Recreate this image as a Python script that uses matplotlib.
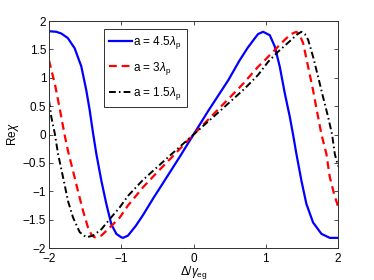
import numpy as np
import matplotlib
matplotlib.use("Agg")
import matplotlib.pyplot as plt

plt.rcParams['font.family'] = ['Liberation Sans', 'DejaVu Sans']
plt.rcParams['mathtext.fontset'] = 'custom'
plt.rcParams['mathtext.rm'] = 'Liberation Sans'
plt.rcParams['mathtext.it'] = 'Liberation Sans:italic'

# a = 4.5 lambda_p (blue, solid)
blue_x = [-2.0, -1.9, -1.83, -1.74, -1.645, -1.553, -1.484, -1.437, -1.39, -1.345,
          -1.276, -1.207, -1.138, -1.068, -1.0, -0.976, -0.907, -0.8, -0.7, -0.556,
          -0.4, -0.2, 0.0, 0.2, 0.482, 0.634, 0.75, 0.85, 0.893, 0.962, 1.055, 1.124,
          1.193, 1.262, 1.332, 1.377, 1.423, 1.492, 1.561, 1.654, 1.77, 1.885, 2.0]
blue_y = [1.82, 1.81, 1.78, 1.70, 1.52, 1.20, 0.78, 0.43, 0.02, -0.34,
          -0.81, -1.22, -1.58, -1.75, -1.81, -1.82, -1.78, -1.61, -1.42, -1.12,
          -0.81, -0.41, 0.0, 0.41, 0.96, 1.30, 1.53, 1.70, 1.77, 1.81, 1.75, 1.55,
          1.195, 0.73, 0.31, 0.0, -0.34, -0.81, -1.22, -1.55, -1.75, -1.82, -1.82]

# a = 3 lambda_p (red, dashed)
red_x = [-2.0, -1.968, -1.92, -1.875, -1.83, -1.785, -1.737, -1.668, -1.6, -1.53,
         -1.46, -1.41, -1.37, -1.32, -1.276, -1.16, -1.02, -0.907, -0.7, -0.5,
         -0.3, 0.0, 0.3, 0.5, 0.69, 0.893, 0.986, 1.124, 1.262, 1.35, 1.423, 1.47,
         1.516, 1.585, 1.654, 1.714, 1.77, 1.838, 1.885, 1.945, 2.0]
red_y = [1.31, 1.14, 0.90, 0.61, 0.31, 0.0, -0.29, -0.64, -0.99, -1.34,
         -1.64, -1.77, -1.81, -1.80, -1.78, -1.64, -1.46, -1.25, -0.93, -0.66,
         -0.40, 0.0, 0.39, 0.65, 0.90, 1.195, 1.31, 1.49, 1.67, 1.77, 1.81, 1.75,
         1.61, 1.195, 0.78, 0.37, 0.0, -0.34, -0.75, -1.05, -1.27]

# a = 1.5 lambda_p (black, dash-dot)
black_x = [-2.0, -1.968, -1.92, -1.875, -1.806, -1.737, -1.668, -1.575, -1.483, -1.39,
           -1.276, -1.16, -1.02, -0.907, -0.7, -0.5, -0.3, 0.0, 0.3, 0.5, 0.7, 0.893,
           1.031, 1.17, 1.354, 1.43, 1.492, 1.54, 1.585, 1.654, 1.723, 1.79, 1.862,
           1.917, 1.954, 2.0]
black_y = [0.60, 0.31, 0.02, -0.34, -0.75, -1.17, -1.46, -1.72, -1.81, -1.78,
           -1.67, -1.49, -1.28, -1.08, -0.80, -0.57, -0.34, 0.0, 0.34, 0.57, 0.80, 1.05,
           1.28, 1.46, 1.67, 1.76, 1.81, 1.77, 1.67, 1.37, 1.02, 0.67, 0.31,
           0.0, -0.34, -0.56]

labels = [r'a = 4.5$\lambda_{\rm p}$', r'a = 3$\lambda_{\rm p}$', r'a = 1.5$\lambda_{\rm p}$']
x_ticks = [-2, -1, 0, 1, 2]
y_ticks = [-2, -1.5, -1, -0.5, 0, 0.5, 1, 1.5, 2]

fig = plt.figure(figsize=(3.74, 2.8), dpi=100)
ax = fig.add_axes([0.131, 0.114, 0.773, 0.811])

ax.plot(blue_x, blue_y, color='#0000ff', lw=1.6, label=labels[0])
ax.plot(red_x, red_y, color='#ff0000', lw=1.6, dashes=(3.5, 2.2), label=labels[1])
ax.plot(black_x, black_y, color='black', lw=1.4, dashes=(3.5, 1.6, 0.8, 1.6), label=labels[2])

ax.set_xlim(-2, 2)
ax.set_ylim(-2, 2)
ax.set_xticks(x_ticks)
ax.set_yticks(y_ticks)
ax.set_xticklabels(['\u22122', '\u22121', '0', '1', '2'])
ax.set_yticklabels(['\u22122', '\u22121.5', '\u22121', '\u22120.5', '0', '0.5', '1', '1.5', '2'])
ax.tick_params(direction='in', length=3, width=0.6, top=True, right=True,
               labelsize=8.5, colors='#303030', labelcolor='black', pad=2)
ax.tick_params(axis='x', pad=3.5)
for s in ax.spines.values():
    s.set_linewidth(0.7)
    s.set_color('#303030')

ax.set_xlabel('\u0394/$\\gamma_{\\rm eg}$', fontsize=8.5, labelpad=-1)
ax.set_ylabel('Re$\\chi$', fontsize=8.5, labelpad=1)

leg = ax.legend(loc='upper left', bbox_to_anchor=(0.19, 0.965), fontsize=8.5,
                frameon=True, fancybox=False, framealpha=1, edgecolor='#303030',
                handlelength=1.9, handletextpad=0.15, labelspacing=0.7,
                borderpad=0.45, borderaxespad=0)
leg.get_frame().set_linewidth(0.7)

fig.savefig('out.png', dpi=100)
